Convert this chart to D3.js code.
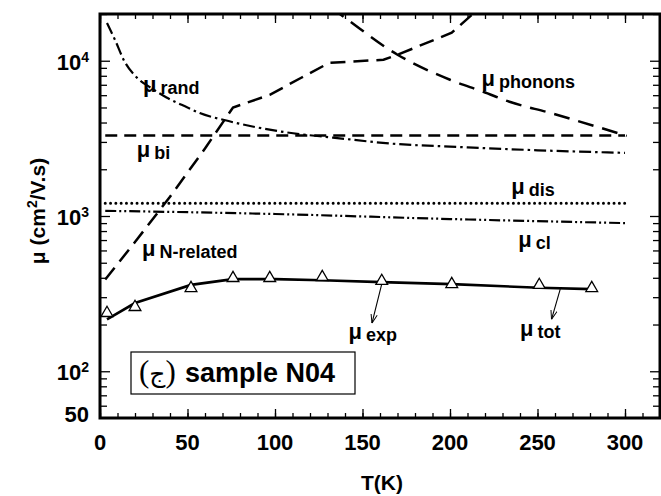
<!DOCTYPE html>
<html>
<head>
<meta charset="utf-8">
<script src="https://cdn.jsdelivr.net/npm/d3@7"></script>
<style>
  body { margin: 0; background: #fff; }
  svg { display: block; }
  text { font-family: "Liberation Sans", Arial, Helvetica, sans-serif; font-weight: bold; fill: #000; }
</style>
</head>
<body>
<svg id="chart" width="661" height="496"></svg>
<script>
// Electron mobility vs temperature, sample N04: measured points, fitted total
// mobility and the individual scattering-limited components.

// measured mobility (triangles)
const expT  = [4, 20, 52, 76, 97, 127, 161, 201, 251, 281];
const expMu = [237, 259, 343, 398, 398, 404, 381, 364, 359, 343];

// total calculated mobility
const totT  = [4, 20, 52, 76, 100, 127, 161, 201, 251, 281];
const totMu = [216, 275, 360, 392, 392, 386, 375, 364, 345, 338];

// random-alloy scattering
const randT  = [4, 8.6, 14, 21, 29, 38, 50, 57, 71, 107, 133, 171, 200, 250, 300];
const randMu = [17500, 13600, 9900, 7800, 6700, 5800, 5000, 4600, 4150, 3450, 3200, 2900, 2800, 2650, 2550];

// built-in / interface term
const biT  = [3, 300];
const biMu = [3300, 3300];

// dislocation scattering
const disT  = [3, 300];
const disMu = [1210, 1210];

// cluster scattering
const clT  = [3, 100, 200, 300];
const clMu = [1080, 1030, 956, 900];

// nitrogen-related scattering
const nrelT  = [3, 20, 40, 60, 76, 97, 115, 131, 162, 170, 201, 213, 230];
const nrelMu = [390, 680, 1330, 2720, 5000, 6030, 7770, 9700, 10150, 10930, 15150, 20000, 29500];

// phonon scattering
const phonT  = [120, 137, 170, 200, 219, 234, 257, 301];
const phonMu = [27200, 20000, 10930, 7540, 6310, 5440, 4620, 3280];

// axis ticks
const xMajor = [0, 50, 100, 150, 200, 250, 300];
const xMinor = d3.range(0, 321, 10);
const yMajor = [100, 1000, 10000];
const yMinor = [60, 70, 80, 90, 200, 300, 400, 500, 600, 700, 800, 900,
                2000, 3000, 4000, 5000, 6000, 7000, 8000, 9000, 20000];
const yLabels = [{v: 50, base: "50", exp: ""}, {v: 100, base: "10", exp: "2"},
                 {v: 1000, base: "10", exp: "3"}, {v: 10000, base: "10", exp: "4"}];

// curve labels: [sub-text, T, mu]
const curveLabels = [
  ["rand", 24.6, 6300],
  ["bi", 21, 2400],
  ["N-related", 24, 552],
  ["dis", 235, 1387],
  ["cl", 239, 631],
  ["phonons", 218, 6900],
  ["exp", 142, 161],
  ["tot", 240, 168]
];

// pointer arrows: [T0, mu0, T1, mu1]
const arrows = [
  [161, 364, 155.4, 204],
  [263, 338, 258, 216]
];

const svg = d3.select("#chart");
const pL = 100, pR = 660, pT = 14, pB = 418;

const x = d3.scaleLinear().domain([0, 320]).range([pL, pR]);
const y = d3.scaleLog().domain([50, 20000]).range([pB, pT]);

const defs = svg.append("defs");
defs.append("clipPath").attr("id", "plot")
  .append("rect").attr("x", pL).attr("y", pT)
  .attr("width", pR - pL).attr("height", pB - pT);

defs.append("marker")
  .attr("id", "head").attr("viewBox", "0 0 10 10")
  .attr("refX", 10).attr("refY", 5)
  .attr("markerWidth", 9).attr("markerHeight", 9)
  .attr("markerUnits", "userSpaceOnUse")
  .attr("orient", "auto")
  .append("path").attr("d", "M0,1.5 L10,5 L0,8.5")
  .attr("fill", "none").attr("stroke", "#000").attr("stroke-width", 1.1);

// ---- axes (ticks point inward on all four sides) ----
function styleAxis(g) {
  g.select(".domain").remove();
  g.selectAll(".tick line").attr("stroke", "#000").attr("stroke-width", 1.3);
  g.selectAll(".tick text").remove();
}
svg.append("g").attr("transform", `translate(0,${pB})`)
  .call(d3.axisBottom(x).tickValues(xMinor).tickSize(-5).tickFormat("")).call(styleAxis);
svg.append("g").attr("transform", `translate(0,${pB})`)
  .call(d3.axisBottom(x).tickValues(xMajor).tickSize(-9).tickFormat("")).call(styleAxis);
svg.append("g").attr("transform", `translate(0,${pT})`)
  .call(d3.axisTop(x).tickValues(xMinor).tickSize(-5).tickFormat("")).call(styleAxis);
svg.append("g").attr("transform", `translate(0,${pT})`)
  .call(d3.axisTop(x).tickValues(xMajor).tickSize(-9).tickFormat("")).call(styleAxis);

svg.append("g").attr("transform", `translate(${pL},0)`)
  .call(d3.axisLeft(y).tickValues(yMinor).tickSize(-7).tickFormat("")).call(styleAxis);
svg.append("g").attr("transform", `translate(${pL},0)`)
  .call(d3.axisLeft(y).tickValues(yMajor).tickSize(-10).tickFormat("")).call(styleAxis);
svg.append("g").attr("transform", `translate(${pR},0)`)
  .call(d3.axisRight(y).tickValues(yMinor).tickSize(-7).tickFormat("")).call(styleAxis);
svg.append("g").attr("transform", `translate(${pR},0)`)
  .call(d3.axisRight(y).tickValues(yMajor).tickSize(-10).tickFormat("")).call(styleAxis);

// tick labels
svg.append("g").selectAll("text").data(xMajor).join("text")
  .attr("x", d => x(d)).attr("y", pB + 32)
  .attr("text-anchor", "middle").attr("font-size", 22)
  .text(d => d);

const yl = svg.append("g").selectAll("text").data(yLabels).join("text")
  .attr("x", 89).attr("y", d => y(d.v) + (d.exp ? 9 : 4))
  .attr("text-anchor", "end").attr("font-size", 22);
yl.append("tspan").text(d => d.base);
yl.append("tspan").attr("font-size", 14).attr("dy", -8).text(d => d.exp);

// axis titles
svg.append("text").attr("x", 382).attr("y", 490)
  .attr("text-anchor", "middle").attr("font-size", 21).text("T(K)");
const yt = svg.append("text")
  .attr("transform", "translate(45,211) rotate(-90)")
  .attr("text-anchor", "middle").attr("font-size", 21);
yt.append("tspan").text("\u03bc (cm");
yt.append("tspan").attr("font-size", 14).attr("dy", -8).text("2");
yt.append("tspan").attr("dy", 8).text("/V.s)");

// ---- curves ----
const plot = svg.append("g").attr("clip-path", "url(#plot)");
function zipData(ts, ms) { return ts.map((t, i) => [t, ms[i]]); }

function drawCurve(ts, ms, dash, width, curve, cap) {
  const line = d3.line().x(d => x(d[0])).y(d => y(d[1])).curve(curve);
  plot.append("path").datum(zipData(ts, ms))
    .attr("d", line).attr("fill", "none").attr("stroke", "#000")
    .attr("stroke-width", width)
    .attr("stroke-dasharray", dash)
    .attr("stroke-linecap", cap || "butt");
}

drawCurve(randT, randMu, "12,4,2.5,4", 2.2, d3.curveMonotoneX);
drawCurve(biT, biMu, "12,7", 2.5, d3.curveLinear);
drawCurve(disT, disMu, "0,5.3", 3, d3.curveLinear, "round");
drawCurve(clT, clMu, "11,3,2,3,2,3", 2.2, d3.curveMonotoneX);
drawCurve(nrelT, nrelMu, "15,8", 2.5, d3.curveLinear);
drawCurve(phonT, phonMu, "16,9", 2.5, d3.curveMonotoneX);
drawCurve(totT, totMu, null, 2.6, d3.curveLinear);

// measured points
const tri = d3.symbol().type(d3.symbolTriangle).size(60);
plot.append("g").selectAll("path").data(zipData(expT, expMu)).join("path")
  .attr("d", tri)
  .attr("transform", d => `translate(${x(d[0])},${y(d[1])})`)
  .attr("fill", "#fff").attr("stroke", "#000").attr("stroke-width", 1.3);

// frame
svg.append("rect").attr("x", pL).attr("y", pT)
  .attr("width", pR - pL).attr("height", pB - pT)
  .attr("fill", "none").attr("stroke", "#000").attr("stroke-width", 3);

// ---- annotations ----
const lab = svg.append("g").selectAll("text").data(curveLabels).join("text")
  .attr("x", d => x(d[1])).attr("y", d => y(d[2]));
lab.append("tspan").attr("font-size", 22).text("\u03bc");
lab.append("tspan").attr("font-size", 18).attr("dx", 4).attr("dy", 2).text(d => d[0]);

svg.append("g").selectAll("line").data(arrows).join("line")
  .attr("x1", d => x(d[0])).attr("y1", d => y(d[1]))
  .attr("x2", d => x(d[2])).attr("y2", d => y(d[3]))
  .attr("stroke", "#000").attr("stroke-width", 1.1)
  .attr("marker-end", "url(#head)");

// sample tag
svg.append("rect").attr("x", 131).attr("y", 352).attr("width", 224).attr("height", 42)
  .attr("fill", "#fff").attr("stroke", "#000").attr("stroke-width", 1.2);
const tag = svg.append("text").attr("x", 139).attr("y", 382).style("font-weight", "normal");
tag.append("tspan").style("font-family", "'Liberation Serif', serif").style("font-weight", "normal").attr("font-size", 31).text("(");
tag.append("tspan").style("font-family", "'DejaVu Sans', sans-serif").style("font-weight", "normal").attr("font-size", 25).text("\u062c");
tag.append("tspan").style("font-family", "'Liberation Serif', serif").style("font-weight", "normal").attr("font-size", 31).text(")");
svg.append("text").attr("x", 185).attr("y", 382).attr("font-size", 27).text("sample N04");
</script>
</body>
</html>
